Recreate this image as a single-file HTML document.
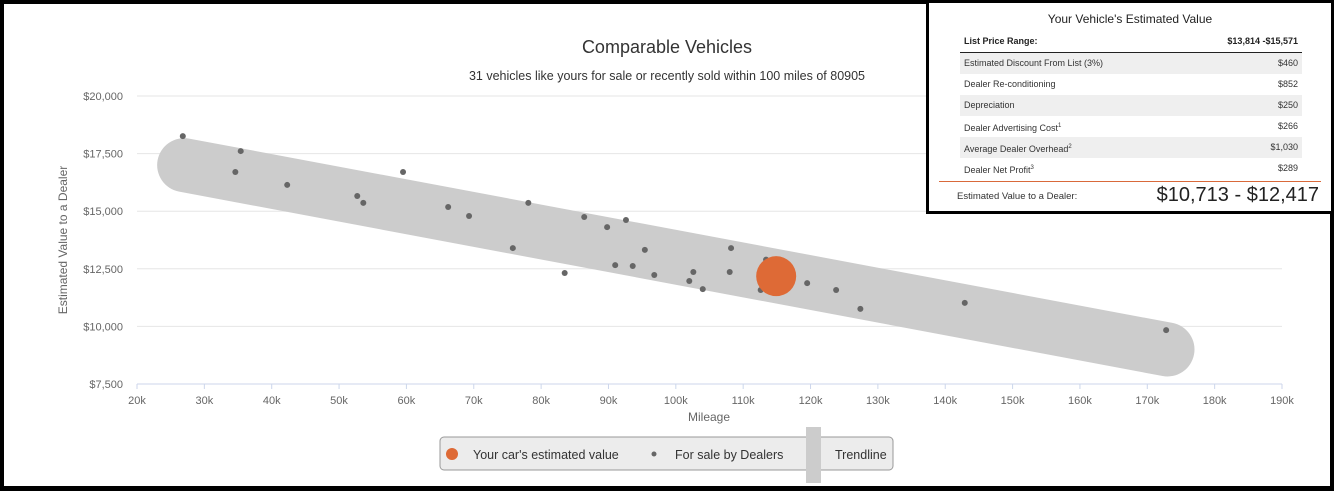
<!DOCTYPE html>
<html><head><meta charset="utf-8"><style>
body{margin:0;width:1334px;height:491px;overflow:hidden;background:#fff;font-family:"Liberation Sans",sans-serif;}
#wrap{position:absolute;left:0;top:0;width:1334px;height:491px;box-sizing:border-box;border:4px solid #000;border-bottom-width:5px;}
#panel{position:absolute;left:926px;top:0;width:408px;height:214px;box-sizing:border-box;border:3px solid #000;background:#fff;}
.row{position:absolute;left:31px;width:342px;height:21px;font-size:9px;color:#333;line-height:21px;}
.row span.l{position:absolute;left:4px}.row span.r{position:absolute;right:4px}
.alt{background:#efefef}
</style></head><body>
<div id="wrap"></div>
<svg id="chart" width="1334" height="491" style="position:absolute;left:0;top:0"></svg>
<div id="panel">
 <div style="position:absolute;top:9px;width:100%;text-align:center;font-size:12px;color:#222">Your Vehicle's Estimated Value</div>
 <div class="row" style="top:28px;font-weight:bold;color:#222;border-bottom:1.5px solid #222"><span class="l">List Price Range:</span><span class="r">$13,814 -$15,571</span></div>
 <div class="row alt" style="top:50px"><span class="l">Estimated Discount From List (3%)</span><span class="r">$460</span></div>
 <div class="row" style="top:71px"><span class="l">Dealer Re-conditioning</span><span class="r">$852</span></div>
 <div class="row alt" style="top:92px"><span class="l">Depreciation</span><span class="r">$250</span></div>
 <div class="row" style="top:113px"><span class="l">Dealer Advertising Cost<sup style="font-size:6px">1</sup></span><span class="r">$266</span></div>
 <div class="row alt" style="top:134px"><span class="l">Average Dealer Overhead<sup style="font-size:6px">2</sup></span><span class="r">$1,030</span></div>
 <div class="row" style="top:155px"><span class="l">Dealer Net Profit<sup style="font-size:6px">3</sup></span><span class="r">$289</span></div>
 <div style="position:absolute;left:10px;width:382px;top:178px;border-top:1px solid #d9693a"></div>
 <div style="position:absolute;left:28px;top:188px;font-size:9.5px;color:#333">Estimated Value to a Dealer:</div>
 <div style="position:absolute;right:12px;top:181px;font-size:20px;color:#222">$10,713 - $12,417</div>
</div>
<script>
const xTicks=[20,30,40,50,60,70,80,90,100,110,120,130,140,150,160,170,180,190];
const yTicks=[7500,10000,12500,15000,17500,20000];
const dealerMiles=[26.8,34.6,35.4,42.3,52.7,53.6,59.5,66.2,69.3,75.8,78.1,83.5,86.4,89.8,91,92.6,93.6,95.4,96.8,102,102.6,104,108,108.2,112.6,113.4,115,119.5,123.8,127.4,142.9,172.8];
const dealerValues=[18260,16700,17610,16140,15660,15360,16700,15180,14790,13400,15360,12320,14750,14310,12660,14620,12620,13320,12230,11970,12360,11620,12360,13400,11580,12900,12900,11880,11580,10760,11020,9840];
const yourCar=[114.9,12180];
const trendStart=[27,17000];
const trendEnd=[173,9000];
const NS="http://www.w3.org/2000/svg",svg=document.getElementById('chart');
const X=v=>137+(v-20)*(1282-137)/170, Y=v=>384-(v-7500)*(384-96)/12500;
function mk(t,a){const e=document.createElementNS(NS,t);for(const k in a)e.setAttribute(k,a[k]);svg.appendChild(e);return e;}
function txt(s,a){const e=mk('text',a);e.textContent=s;return e;}
yTicks.forEach(v=>{
 const l=mk('line',{x1:137,x2:1282,y1:Y(v),y2:Y(v),stroke:v==7500?'#ccd6eb':'#e6e6e6'});
 
 
 const t=txt('$'+v.toLocaleString('en-US'),{x:123,y:Y(v)+4,'text-anchor':'end','font-size':11,fill:'#666'});
 
 
});
xTicks.forEach(v=>{
 const l=mk('line',{x1:X(v),x2:X(v),y1:384,y2:389,stroke:'#ccd6eb'});
 
 
 const t=txt(v+'k',{x:X(v),y:404,'text-anchor':'middle','font-size':11,fill:'#666'});
 
 
});
let e=txt('Comparable Vehicles',{x:667,y:53,'text-anchor':'middle','font-size':18,fill:'#333'});

e=txt('31 vehicles like yours for sale or recently sold within 100 miles of 80905',{x:667,y:80,'text-anchor':'middle','font-size':12.5,fill:'#333'});

e=txt('Mileage',{x:709,y:421,'text-anchor':'middle','font-size':12,fill:'#666'});

e=txt('Estimated Value to a Dealer',{x:0,y:0,'text-anchor':'middle','font-size':12,fill:'#666',transform:'translate(67,240) rotate(-90)'});

e=mk('line',{x1:X(trendStart[0]),y1:Y(trendStart[1]),x2:X(trendEnd[0]),y2:Y(trendEnd[1]),stroke:'#cccccc','stroke-width':54,'stroke-linecap':'round'});

dealerMiles.forEach((m,i)=>{
 const c=mk('circle',{cx:X(m),cy:Y(dealerValues[i]),r:3,fill:'#666'});
 
 
});
e=mk('ellipse',{cx:X(yourCar[0]),cy:Y(yourCar[1]),rx:20,ry:20,fill:'#de6a36'});

// legend
e=mk('rect',{x:440,y:437,width:453,height:33,rx:4,fill:'#ececec',stroke:'#999'});

e=mk('circle',{cx:452,cy:454,r:6,fill:'#de6a36'});

e=txt("Your car's estimated value",{x:473,y:459,'font-size':12.5,fill:'#333'});

e=mk('circle',{cx:654,cy:454,r:2.5,fill:'#666'});

e=txt('For sale by Dealers',{x:675,y:459,'font-size':12.5,fill:'#333'});

e=mk('rect',{x:806,y:427,width:15,height:56,fill:'#cccccc'});

e=txt('Trendline',{x:835,y:459,'font-size':12.5,fill:'#333'});

</script>
</body></html>
